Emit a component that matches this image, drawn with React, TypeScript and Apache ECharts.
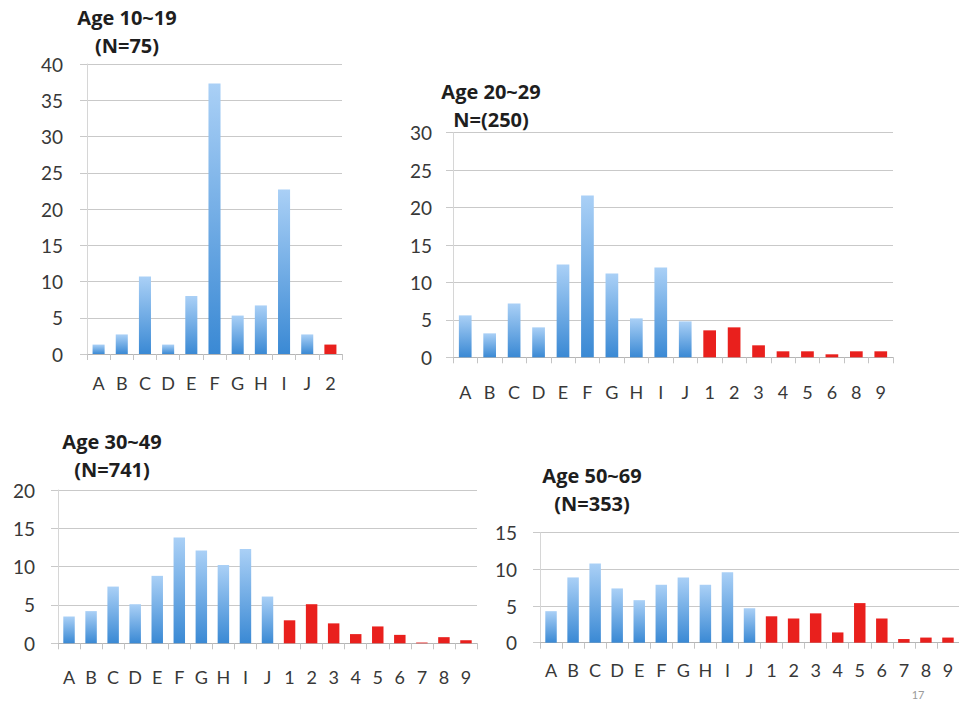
import React, { useEffect, useRef } from "react";
import * as echarts from "echarts";

// Category labels per age group
const cats1019 = ["A", "B", "C", "D", "E", "F", "G", "H", "I", "J", "2"];
const cats2029 = ["A", "B", "C", "D", "E", "F", "G", "H", "I", "J", "1", "2", "3", "4", "5", "6", "8", "9"];
const cats3049 = ["A", "B", "C", "D", "E", "F", "G", "H", "I", "J", "1", "2", "3", "4", "5", "6", "7", "8", "9"];
const cats5069 = ["A", "B", "C", "D", "E", "F", "G", "H", "I", "J", "1", "2", "3", "4", "5", "6", "7", "8", "9"];

// Percentages per category
const vals1019 = [1.3, 2.7, 10.7, 1.3, 8.0, 37.3, 5.3, 6.7, 22.7, 2.7, 1.3];
const vals2029 = [5.6, 3.2, 7.2, 4.0, 12.4, 21.6, 11.2, 5.2, 12.0, 4.8, 3.6, 4.0, 1.6, 0.8, 0.8, 0.4, 0.8, 0.8];
const vals3049 = [3.5, 4.2, 7.4, 5.1, 8.8, 13.8, 12.1, 10.2, 12.3, 6.1, 3.0, 5.1, 2.6, 1.2, 2.2, 1.1, 0.1, 0.8, 0.4];
const vals5069 = [4.3, 8.9, 10.8, 7.4, 5.8, 7.9, 8.9, 7.9, 9.6, 4.7, 3.6, 3.3, 4.0, 1.4, 5.4, 3.3, 0.5, 0.7, 0.7];

// Y-axis maxima
const yMax = [40, 30, 20, 15];

// Panel headings
const headings = [
  ["Age 10~19", "(N=75)"],
  ["Age 20~29", "N=(250)"],
  ["Age 30~49", "(N=741)"],
  ["Age 50~69", "(N=353)"],
];

const pageNumber = "17";

const W = 959;
const H = 704;

const panels = [
  { cats: cats1019, vals: vals1019, left: 87, right: W - 342, top: 64, bottom: H - 354, xMargin: 20, yMargin: 24, head: [127, 17] },
  { cats: cats2029, vals: vals2029, left: 453, right: W - 893, top: 132.7, bottom: H - 357.3, xMargin: 26, yMargin: 21, head: [491, 91] },
  { cats: cats3049, vals: vals3049, left: 58, right: W - 477, top: 490, bottom: H - 643.3, xMargin: 25, yMargin: 23, head: [112, 441] },
  { cats: cats5069, vals: vals5069, left: 540, right: W - 964, top: 532.7, bottom: H - 642.7, xMargin: 18, yMargin: 23, head: [592, 475] },
];

const FONT = "Lato, 'Open Sans', sans-serif";
const HEAD_FONT = "'Open Sans', Lato, sans-serif";
const GRID_COLOR = "#c9c9c9";
const TEXT_COLOR = "#383838";

const blueFill = new echarts.graphic.LinearGradient(0, 0, 0, 1, [
  { offset: 0, color: "#aad0f6" },
  { offset: 1, color: "#3a89d4" },
]);
const redFill = "#e9201d";

export default function App() {
  const ref = useRef<HTMLDivElement>(null);

  useEffect(() => {
    if (!ref.current) return;
    const chart = echarts.init(ref.current, null, { renderer: "svg" });

    const grid = panels.map((p) => ({
      left: p.left,
      right: p.right,
      top: p.top,
      bottom: p.bottom,
      containLabel: false,
    }));

    const xAxis = panels.map((p, i) => ({
      type: "category",
      gridIndex: i,
      data: p.cats,
      boundaryGap: true,
      axisLine: { show: true, lineStyle: { color: "#b5b5b5", width: 1 } },
      axisTick: { show: true, length: 6, alignWithLabel: false, lineStyle: { color: "#c4c4c4" } },
      axisLabel: { margin: p.xMargin, fontSize: 18, color: TEXT_COLOR, fontFamily: FONT, interval: 0 },
    }));

    const yAxis = panels.map((p, i) => ({
      type: "value",
      gridIndex: i,
      min: 0,
      max: yMax[i],
      interval: 5,
      axisLine: { show: true, lineStyle: { color: "#d6d6d6", width: 1 } },
      axisTick: { show: true, length: 7, lineStyle: { color: GRID_COLOR } },
      splitLine: { show: true, lineStyle: { color: GRID_COLOR, width: 1 } },
      axisLabel: { margin: p.yMargin, fontSize: 19, color: TEXT_COLOR, fontFamily: FONT },
    }));

    const series = panels.map((p, i) => ({
      type: "bar",
      xAxisIndex: i,
      yAxisIndex: i,
      barCategoryGap: "48%",
      data: p.vals.map((v, k) => ({
        value: v,
        itemStyle: { color: /^[A-Z]$/.test(p.cats[k]) ? blueFill : redFill },
      })),
    }));

    const headingGraphics = panels.flatMap((p, i) =>
      headings[i].map((line, j) => ({
        type: "text",
        x: p.head[0],
        y: p.head[1] + j * 28,
        style: {
          text: line,
          textAlign: "center",
          textVerticalAlign: "middle",
          font: `bold 20px ${HEAD_FONT}`,
          fill: "#1e1e1e",
        },
      }))
    );

    chart.setOption({
      animation: false,
      backgroundColor: "#ffffff",
      grid,
      xAxis,
      yAxis,
      series,
      graphic: [
        ...headingGraphics,
        {
          type: "text",
          x: 918,
          y: 694,
          style: {
            text: pageNumber,
            textAlign: "center",
            textVerticalAlign: "middle",
            font: `11px ${FONT}`,
            fill: "#9a9a9a",
          },
        },
      ],
    });

    return () => chart.dispose();
  }, []);

  return (
    <div
      ref={ref}
      style={{ position: "fixed", left: 0, top: 0, width: W, height: H, overflow: "hidden" }}
    />
  );
}
